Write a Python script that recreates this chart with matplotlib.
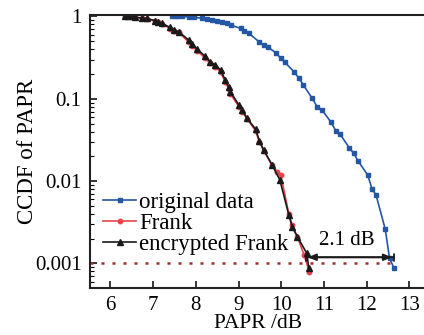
import numpy as np
import matplotlib
matplotlib.use("Agg")
import matplotlib.pyplot as plt
from matplotlib.ticker import FixedLocator, LogLocator, NullFormatter

plt.rcParams['font.family'] = ['Liberation Serif', 'DejaVu Serif']

# original data (blue squares)
orig_x = [7.44, 7.52, 7.59, 7.68, 7.83, 7.95, 8.15, 8.26, 8.38, 8.50, 8.62, 8.73,
          8.82, 9.05, 9.14, 9.24, 9.48, 9.60, 9.68, 9.89, 9.99, 10.08, 10.30, 10.42,
          10.52, 10.73, 10.85, 10.95, 11.16, 11.28, 11.38, 11.60, 11.70, 11.80,
          12.03, 12.13, 12.22, 12.44, 12.54, 12.65]
orig_y = [1.0, 1.0, 1.0, 1.0, 0.986, 0.978, 0.951, 0.925, 0.907, 0.889, 0.846, 0.822,
          0.788, 0.715, 0.672, 0.625, 0.494, 0.451, 0.430, 0.357, 0.310, 0.280, 0.213,
          0.177, 0.147, 0.101, 0.0788, 0.0741, 0.0527, 0.0410, 0.0373, 0.0252, 0.0218,
          0.0177, 0.0118, 0.0080, 0.00687, 0.00260, 0.00115, 0.00087]

# Frank (red circles)
frank_x = [6.34, 6.42, 6.50, 6.58, 6.73, 6.85, 7.05, 7.12, 7.20, 7.40, 7.48, 7.60,
           7.83, 7.91, 8.03, 8.22, 8.34, 8.46, 8.58, 8.69, 8.77, 8.81, 9.01, 9.09,
           9.20, 9.40, 9.49, 9.59, 9.79, 9.91, 9.99, 10.18, 10.26, 10.38, 10.54, 10.66]
frank_y = [1.0, 1.0, 1.0, 0.978, 0.955, 0.94, 0.88, 0.855, 0.815, 0.71, 0.67, 0.64,
           0.49, 0.44, 0.385, 0.31, 0.27, 0.245, 0.21, 0.16, 0.132, 0.115, 0.080, 0.070,
           0.057, 0.041, 0.030, 0.0235, 0.0155, 0.0130, 0.0119, 0.0040, 0.0029, 0.0021,
           0.00126, 0.00079]

# encrypted Frank (black triangles)
enc_x = [6.34, 6.42, 6.50, 6.58, 6.73, 6.85, 7.05, 7.12, 7.20, 7.40, 7.48, 7.60,
         7.83, 7.91, 8.03, 8.22, 8.34, 8.46, 8.58, 8.69, 8.77, 8.81, 9.01, 9.09,
         9.20, 9.40, 9.49, 9.59, 9.79, 9.97, 10.18, 10.26, 10.38, 10.60, 10.65]
enc_y = [1.0, 1.0, 1.0, 0.978, 0.959, 0.946, 0.889, 0.865, 0.827, 0.735, 0.686, 0.654,
         0.518, 0.463, 0.403, 0.327, 0.282, 0.257, 0.224, 0.169, 0.140, 0.122, 0.084,
         0.073, 0.058, 0.043, 0.0307, 0.0239, 0.0157, 0.0103, 0.00387, 0.00277,
         0.00211, 0.00133, 0.00087]

xticks = [6, 7, 8, 9, 10, 11, 12, 13]
yticks = [1, 0.1, 0.01, 0.001]
ytick_labels = ['1', '0.1', '0.01', '0.001']

blue = '#2456a6'
red = '#e8434b'
dot_red = '#9c2f2f'

fig = plt.figure(figsize=(4.24, 3.35), dpi=100)
ax = fig.add_axes([0.2123, 0.1412, 0.793, 0.8155])

ax.plot(orig_x, orig_y, '-s', color=blue, ms=3.2, lw=1.2, label='original data')
ax.plot(frank_x, frank_y, '-o', color=red, ms=3.2, lw=1.2, label='Frank')
ax.plot(enc_x, enc_y, '-^', color='#1a1a1a', ms=3.8, lw=1.2, label='encrypted Frank')

# 0.001 reference line
ax.plot([5.52, 12.62], [0.001, 0.001], color=dot_red, lw=1.8, ls=(0, (1.2, 3.2)))

# 2.1 dB gap marker
ya = 0.00119
ax.annotate('', xy=(10.58, ya), xytext=(12.65, ya),
            arrowprops=dict(arrowstyle='|-|, widthA=0.25, widthB=0.25', color='#1a1a1a', lw=1.3,
                            shrinkA=0, shrinkB=0))
ax.annotate('', xy=(10.62, ya), xytext=(12.60, ya),
            arrowprops=dict(arrowstyle='<|-|>, head_length=0.5, head_width=0.2', color='#1a1a1a', lw=1.3,
                            shrinkA=0, shrinkB=0))
ax.text(11.53, 0.00192, '2.1 dB', fontsize=15, ha='center', va='center')

ax.set_yscale('log')
ax.set_xlim(5.52, 13.4)
ax.set_ylim(5.08e-4, 1.057)
ax.set_xticks(xticks)
ax.yaxis.set_major_locator(FixedLocator(yticks))
ax.set_yticklabels(ytick_labels)
ax.yaxis.set_minor_locator(LogLocator(base=10, subs=np.arange(2, 10)))
ax.yaxis.set_minor_formatter(NullFormatter())

ax.tick_params(axis='both', which='major', direction='in', length=5, width=1.1,
               labelsize=15, top=False, right=False, pad=6)
ax.tick_params(axis='y', which='minor', direction='in', length=3, width=0.8, right=False)
for s in ax.spines.values():
    s.set_linewidth(1.5)
    s.set_color('#222222')

ax.set_xlabel('PAPR /dB', fontsize=15.5, labelpad=-1)
ax.set_ylabel('CCDF of PAPR', fontsize=16.5, labelpad=-2)

ax.legend(loc='upper left', bbox_to_anchor=(0.04, 0.35), frameon=False, fontsize=16.5,
          handlelength=1.4, handletextpad=0.15, labelspacing=0.0, borderpad=0, borderaxespad=0)

fig.savefig('out.png', dpi=100)
